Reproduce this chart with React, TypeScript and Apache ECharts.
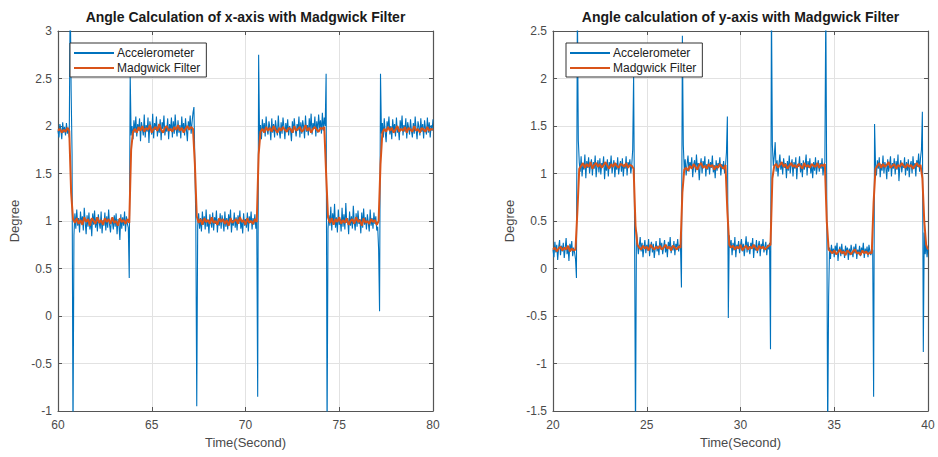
import React, { useEffect, useRef } from "react";
import * as echarts from "echarts";

// ---------- Data ----------
const xAxisTicksLeft = [60, 80, 5]; // min, max, interval
const xAxisTicksRight = [20, 40, 5];
const yRangeLeft = [-1, 3, 0.5];
const yRangeRight = [-1.5, 2.5, 0.5];

const titleLeft = "Angle Calculation of x-axis with Madgwick Filter";
const titleRight = "Angle calculation of y-axis with Madgwick Filter";
const seriesNames = ["Accelerometer", "Madgwick Filter"];

// sampling
const accStep = 0.05;
const madStep = 0.1;
const leftStart = 60;
const rightStart = 20;

// x-axis angle, accelerometer (60.00 .. 80.00, step 0.05)
const leftAccel = [
  1.95, 1.88, 2.02, 1.97, 1.86, 2.04, 1.93, 1.99, 1.90, 2.03,
  1.92, 1.98, 1.88, 3.40, 2.38, 1.70, -1.30, 0.85, 1.08, 0.92,
  1.12, 0.95, 1.03, 0.88, 1.10, 0.97, 1.05, 0.90, 1.14, 0.99,
  0.86, 1.06, 0.94, 1.09, 0.91, 1.02, 0.84, 1.08, 0.96, 1.11,
  0.93, 1.04, 0.89, 1.07, 0.98, 0.92, 1.10, 0.87, 1.01, 0.95,
  1.09, 0.90, 1.05, 0.93, 1.12, 0.96, 0.88, 1.03, 0.99, 0.91,
  1.06, 0.94, 1.08, 0.86, 1.02, 0.97, 0.80, 1.07, 0.92, 1.04,
  0.95, 1.10, 0.89, 1.05, 0.97, 0.93,
  0.40, 2.55, 1.90, 2.00,
  1.86, 2.06, 1.93, 2.10, 1.89, 2.02, 1.95, 2.08, 1.84, 2.04,
  1.97, 1.90, 2.12, 1.88, 2.01, 1.94, 2.09, 1.82, 2.05, 1.98,
  1.91, 2.13, 1.87, 2.03, 1.96, 2.10, 1.89, 2.00, 1.93, 2.07,
  1.85, 2.04, 1.97, 2.11, 1.90, 1.99, 1.94, 2.08, 1.86, 2.02,
  1.95, 2.09, 1.88, 2.05, 1.92, 2.12, 1.97, 1.89, 2.06, 1.93,
  2.01, 1.87, 2.10, 1.95, 2.03, 1.90, 2.08, 1.96, 1.84, 2.05,
  1.98, 2.11, 1.92, 2.04, 2.14, 2.20,
  1.60, 1.00, -0.95, 0.95,
  1.08, 0.92, 1.03, 0.89, 1.10, 0.96, 1.05, 0.91, 1.12, 0.94,
  1.01, 0.87, 1.07, 0.98, 0.93, 1.09, 0.90, 1.04, 0.97, 1.11,
  0.88, 1.02, 0.95, 1.08, 0.92, 1.06, 0.99, 0.89, 1.10, 0.94,
  1.03, 0.91, 1.07, 0.96, 1.12, 0.88, 1.01, 0.95, 1.09, 0.93,
  1.04, 0.90, 1.06, 0.97, 1.11, 0.92, 1.00, 0.87, 1.08, 0.95,
  1.02, 0.93, 1.09, 0.89, 1.05, 0.98, 1.10, 0.91, 1.03, 0.96,
  1.07, 0.92, 1.00,
  -0.85, 2.75, 1.88,
  2.01, 1.86, 2.07, 1.94, 2.03, 1.89, 2.10, 1.96, 1.91, 2.05,
  1.98, 1.85, 2.08, 1.93, 2.02, 1.88, 2.06, 1.97, 1.90, 2.11,
  1.95, 1.87, 2.04, 1.92, 2.09, 1.99, 1.86, 2.03, 1.94, 2.07,
  1.90, 2.00, 1.96, 1.84, 2.05, 1.93, 2.08, 1.97, 1.89, 2.02,
  1.95, 2.10, 1.88, 2.04, 1.92, 2.06, 1.99, 1.87, 2.11, 1.94,
  2.01, 1.90, 2.08, 1.96, 2.13, 1.91, 2.03, 1.97, 2.10, 1.89,
  2.05, 1.93, 2.12, 1.98, 2.06, 1.92, 2.14, 1.95, 2.09, 2.00,
  2.55, -1.30, 0.92,
  1.06, 0.95, 1.15, 0.90, 1.08, 0.97, 1.18, 0.93, 1.04, 0.88,
  1.12, 0.96, 1.02, 0.89, 1.14, 0.94, 1.07, 0.91, 1.19, 0.98,
  1.03, 0.86, 1.10, 0.95, 1.05, 0.92, 1.16, 0.99, 0.90, 1.08,
  0.94, 1.11, 0.97, 1.02, 0.87, 1.09, 0.93, 1.13, 0.96, 1.04,
  0.91, 1.07, 0.98, 0.89, 1.12, 0.95, 1.03, 0.92, 1.09, 0.97,
  1.05, 0.90, 0.94, 0.70,
  0.05, 2.55, 1.92,
  2.03, 1.88, 2.08, 1.94, 1.83, 2.05, 1.97, 2.10, 1.91, 2.00,
  1.86, 2.07, 1.95, 2.02, 1.89, 2.09, 1.93, 1.99, 1.85, 2.06,
  1.96, 2.11, 1.90, 2.01, 1.94, 2.08, 1.87, 2.04, 1.98, 1.91,
  2.07, 1.95, 1.88, 2.03, 1.92, 2.10, 1.96, 1.86, 2.05, 1.99,
  1.90, 2.08, 1.94, 2.02, 1.87, 2.06, 1.97, 1.91, 2.09, 1.93,
  2.04, 1.88, 2.01, 1.95, 2.07,
];

// x-axis angle, Madgwick filter (60.0 .. 80.0, step 0.1)
const leftMadgwick = [
  1.95, 1.97, 1.93, 1.96, 1.94, 1.98, 1.95,
  1.30, 1.02,
  0.98, 1.03, 0.97, 1.01, 0.96, 1.04, 0.99, 1.02, 0.95, 1.03,
  1.00, 0.97, 1.04, 0.98, 1.01, 0.96, 1.03, 0.99, 1.02, 0.97,
  1.04, 0.98, 1.00, 0.95, 1.03, 0.99, 1.01, 0.97, 1.02,
  0.98, 1.75, 1.94,
  1.97, 1.93, 1.99, 1.95, 2.00, 1.94, 1.98, 1.96, 2.01, 1.93,
  1.97, 1.99, 1.95, 2.02, 1.96, 1.93, 1.98, 2.00, 1.95, 1.97,
  1.94, 1.99, 1.96, 2.01, 1.95, 1.98, 1.93, 1.97, 2.00, 1.96, 1.99, 1.97,
  1.60, 1.05,
  0.98, 1.02, 0.96, 1.03, 0.99, 1.01, 0.97, 1.04, 0.98, 1.00,
  0.96, 1.03, 0.99, 1.02, 0.97, 1.01, 0.95, 1.03, 0.98, 1.00,
  1.02, 0.97, 1.04, 0.99, 1.01, 0.96, 1.03, 0.98, 1.00, 0.97, 1.02, 0.99,
  1.70, 1.94,
  1.97, 1.93, 1.99, 1.95, 1.98, 1.94, 2.00, 1.96, 1.93, 1.98,
  1.95, 1.99, 1.96, 1.94, 1.98, 1.97, 1.93, 2.00, 1.95, 1.97,
  1.99, 1.94, 1.96, 2.01, 1.95, 1.98, 1.93, 1.97, 1.99, 1.96, 1.94, 1.98, 1.97, 1.99,
  1.50, 1.04,
  0.98, 1.03, 0.96, 1.02, 0.99, 1.04, 0.97, 1.01, 0.98, 1.03,
  0.96, 1.00, 1.02, 0.97, 1.04, 0.99, 1.01, 0.95, 1.03, 0.98,
  1.00, 0.97, 1.02, 0.99, 1.01, 0.96, 1.00,
  1.60, 1.93,
  1.97, 1.94, 1.99, 1.95, 1.98, 1.93, 1.96, 2.00, 1.94, 1.97,
  1.95, 1.99, 1.93, 1.98, 1.96, 1.94, 2.00, 1.95, 1.97, 1.93,
  1.98, 1.96, 1.94, 1.99, 1.95, 1.97, 1.96,
];

// y-axis angle, accelerometer (20.00 .. 40.00, step 0.05)
const rightAccel = [
  0.20, 0.12, 0.28, 0.17, 0.25, 0.09, 0.22, 0.30, 0.14, 0.24,
  0.18, 0.27, 0.11, 0.21, 0.32, 0.15, 0.23, 0.08, 0.26, 0.19,
  0.29, 0.13, 0.22, 0.17, 0.10,
  -0.10, 2.80, 1.35, 1.12,
  1.02, 1.18, 0.97, 1.10, 1.04, 1.20, 0.95, 1.13, 1.06, 1.17,
  1.00, 1.09, 1.15, 0.98, 1.12, 1.05, 1.19, 0.96, 1.08, 1.14,
  1.01, 1.16, 0.99, 1.11, 1.07, 1.18, 0.94, 1.10, 1.03, 1.15,
  0.97, 1.12, 1.06, 1.19, 1.00, 1.09, 1.14, 0.96, 1.11, 1.04,
  1.17, 0.99, 1.08, 1.13, 1.02, 1.16, 0.97, 1.10, 1.05, 1.18,
  0.98, 1.12, 1.07, 1.15, 1.00, 1.09, 1.25,
  2.05, 0.45, -1.80, 0.40,
  0.28, 0.15, 0.24, 0.33, 0.18, 0.27, 0.12, 0.22, 0.30, 0.16,
  0.25, 0.19, 0.31, 0.13, 0.23, 0.28, 0.17, 0.26, 0.11, 0.21,
  0.29, 0.18, 0.24, 0.14, 0.32, 0.20, 0.27, 0.15, 0.23, 0.30,
  0.17, 0.25, 0.12, 0.28, 0.21, 0.33, 0.16, 0.24, 0.19, 0.29,
  0.14, 0.26, 0.22, 0.31, 0.18, 0.25, 0.23,
  -0.20, 2.45, 1.30,
  1.04, 1.15, 0.98, 1.10, 1.19, 1.02, 1.12, 1.06, 1.17, 0.96,
  1.09, 1.14, 1.01, 1.20, 1.05, 1.11, 0.93, 1.08, 1.16, 1.00,
  1.13, 1.07, 1.18, 0.97, 1.10, 1.04, 1.15, 0.99, 1.12, 1.06,
  1.19, 1.01, 1.09, 0.95, 1.14, 1.03, 1.11, 1.07, 1.17, 0.98,
  1.10, 1.05, 1.13, 1.00, 1.08, 1.22,
  1.60, -0.52, 0.35,
  0.22, 0.30, 0.14, 0.27, 0.19, 0.33, 0.12, 0.25, 0.21, 0.29,
  0.16, 0.24, 0.31, 0.18, 0.26, 0.13, 0.23, 0.34, 0.17, 0.28,
  0.20, 0.15, 0.27, 0.22, 0.32, 0.11, 0.25, 0.19, 0.30, 0.16,
  0.24, 0.29, 0.13, 0.26, 0.21, 0.31, 0.17, 0.23, 0.28, 0.14,
  0.25, 0.20, 0.27,
  -0.85, 2.80, 1.30,
  1.08, 1.18, 1.33, 1.02, 1.14, 0.97, 1.10, 1.20, 1.04, 1.12,
  0.99, 1.16, 1.06, 1.11, 0.95, 1.13, 1.03, 1.19, 1.00, 1.09,
  1.15, 0.97, 1.12, 1.05, 1.17, 0.94, 1.10, 1.07, 1.18, 1.01,
  1.11, 0.96, 1.14, 1.04, 1.09, 1.20, 0.98, 1.13, 1.06, 1.16,
  1.00, 1.10, 0.95, 1.12, 1.03, 1.17, 0.99, 1.08, 1.14, 1.02,
  1.11, 1.05, 1.16, 0.98, 1.09, 1.12,
  2.80, 0.75, -1.80, -0.30,
  0.22, 0.10, 0.25, 0.16, 0.21, 0.12, 0.24, 0.18, 0.27, 0.08,
  0.19, 0.23, 0.13, 0.26, 0.15, 0.20, 0.11, 0.24, 0.17, 0.22,
  0.09, 0.21, 0.14, 0.25, 0.18, 0.12, 0.23, 0.16, 0.26, 0.10,
  0.20, 0.15, 0.24, 0.13, 0.22, 0.17, 0.27, 0.11, 0.21, 0.16,
  0.23, 0.12, 0.25, 0.18, 0.14, 0.22, 0.19,
  -1.35, 1.52, 1.10,
  0.98, 1.14, 1.05, 1.17, 0.96, 1.10, 1.03, 1.19, 1.00, 1.12,
  1.07, 0.94, 1.15, 1.02, 1.09, 1.18, 0.97, 1.11, 1.05, 1.16,
  0.99, 1.13, 1.04, 1.20, 0.92, 1.08, 1.14, 1.01, 1.10, 1.06,
  1.17, 0.98, 1.12, 1.03, 1.15, 0.96, 1.09, 1.13, 1.00, 1.18,
  1.05, 1.11, 0.97, 1.14, 1.07, 1.21, 1.02, 1.16, 1.25,
  1.65, -0.88, 0.38, 0.15, 0.27, 0.12, 0.22,
];

// y-axis angle, Madgwick filter (20.0 .. 40.0, step 0.1)
const rightMadgwick = [
  0.20, 0.22, 0.18, 0.21, 0.23, 0.19, 0.22, 0.20, 0.24, 0.18, 0.21, 0.19, 0.20,
  0.60, 1.05,
  1.08, 1.11, 1.06, 1.10, 1.07, 1.12, 1.05, 1.09, 1.11, 1.07,
  1.10, 1.06, 1.09, 1.12, 1.08, 1.05, 1.10, 1.07, 1.11, 1.08,
  1.06, 1.10, 1.09, 1.07, 1.11, 1.06, 1.09, 1.08,
  1.05, 0.45, 0.25,
  0.22, 0.20, 0.24, 0.21, 0.23, 0.19, 0.25, 0.22, 0.20, 0.23,
  0.21, 0.24, 0.20, 0.22, 0.25, 0.21, 0.23, 0.19, 0.24, 0.22, 0.20, 0.23,
  0.22, 0.80, 1.04,
  1.06, 1.03, 1.08, 1.05, 1.10, 1.07, 1.04, 1.09, 1.11, 1.06,
  1.08, 1.05, 1.10, 1.07, 1.09, 1.04, 1.08, 1.06, 1.10, 1.07, 1.05, 1.09,
  0.60, 0.25,
  0.22, 0.24, 0.20, 0.23, 0.21, 0.25, 0.19, 0.22, 0.24, 0.20,
  0.23, 0.21, 0.25, 0.22, 0.19, 0.24, 0.21, 0.23, 0.20, 0.22, 0.24,
  0.25, 0.95, 1.08,
  1.10, 1.06, 1.09, 1.12, 1.07, 1.10, 1.05, 1.08, 1.11, 1.07,
  1.09, 1.06, 1.10, 1.08, 1.05, 1.11, 1.07, 1.09, 1.06, 1.10,
  1.08, 1.07, 1.11, 1.06, 1.09, 1.08, 1.10,
  0.50, 0.20,
  0.18, 0.16, 0.19, 0.15, 0.17, 0.20, 0.16, 0.18, 0.14, 0.19,
  0.17, 0.15, 0.18, 0.20, 0.16, 0.17, 0.14, 0.19, 0.16, 0.18, 0.15, 0.17, 0.16,
  0.70, 1.05,
  1.08, 1.11, 1.06, 1.10, 1.07, 1.09, 1.12, 1.06, 1.08, 1.10,
  1.05, 1.09, 1.07, 1.11, 1.08, 1.06, 1.10, 1.07, 1.09, 1.05, 1.08, 1.11, 1.07, 1.09,
  0.95, 0.50, 0.25, 0.20,
];

// ---------- Styles ----------
const FONT = "'Liberation Sans', Arial, Helvetica, sans-serif";
const BLUE = "#0072BD";
const ORANGE = "#D95319";
const AXIS_COLOR = "#555555";
const GRID_COLOR = "#e2e2e2";
const TEXT_COLOR = "#4a4a4a";

const toPairs = (vals: number[], t0: number, dt: number) =>
  vals.map((v, i) => [Math.round((t0 + i * dt) * 100) / 100, v]);

function buildOption() {
  const grids = [
    { left: 58, right: 505, top: 31, bottom: 46 },
    { left: 553, right: 10, top: 31, bottom: 46 },
  ];
  const xr = [xAxisTicksLeft, xAxisTicksRight];
  const yr = [yRangeLeft, yRangeRight];

  const xAxes: any[] = [];
  const yAxes: any[] = [];
  for (let g = 0; g < 2; g++) {
    const [xmin, xmax, xint] = xr[g];
    const [ymin, ymax, yint] = yr[g];
    xAxes.push({
      type: "value",
      gridIndex: g,
      min: xmin,
      max: xmax,
      interval: xint,
      position: "bottom",
      name: "Time(Second)",
      nameLocation: "middle",
      nameGap: 24,
      nameTextStyle: { fontFamily: FONT, fontSize: 13, color: TEXT_COLOR },
      axisLine: { show: true, onZero: false, lineStyle: { color: AXIS_COLOR, width: 1.2 } },
      axisTick: { show: true, inside: true, length: 4, lineStyle: { color: AXIS_COLOR } },
      axisLabel: { fontFamily: FONT, fontSize: 12, color: TEXT_COLOR, margin: 8 },
      splitLine: { show: true, lineStyle: { color: GRID_COLOR, width: 1 } },
    });
    xAxes.push({
      type: "value",
      gridIndex: g,
      min: xmin,
      max: xmax,
      interval: xint,
      position: "top",
      axisLine: { show: true, onZero: false, lineStyle: { color: AXIS_COLOR, width: 1.2 } },
      axisTick: { show: true, inside: true, length: 4, lineStyle: { color: AXIS_COLOR } },
      axisLabel: { show: false },
      splitLine: { show: false },
    });
    yAxes.push({
      type: "value",
      gridIndex: g,
      min: ymin,
      max: ymax,
      interval: yint,
      position: "left",
      name: "Degree",
      nameLocation: "middle",
      nameGap: 37,
      nameTextStyle: { fontFamily: FONT, fontSize: 13, color: TEXT_COLOR },
      axisLine: { show: true, onZero: false, lineStyle: { color: AXIS_COLOR, width: 1.2 } },
      axisTick: { show: true, inside: true, length: 4, lineStyle: { color: AXIS_COLOR } },
      axisLabel: { fontFamily: FONT, fontSize: 12, color: TEXT_COLOR, margin: 6 },
      splitLine: { show: true, lineStyle: { color: GRID_COLOR, width: 1 } },
    });
    yAxes.push({
      type: "value",
      gridIndex: g,
      min: ymin,
      max: ymax,
      interval: yint,
      position: "right",
      axisLine: { show: true, onZero: false, lineStyle: { color: AXIS_COLOR, width: 1.2 } },
      axisTick: { show: true, inside: true, length: 4, lineStyle: { color: AXIS_COLOR } },
      axisLabel: { show: false },
      splitLine: { show: false },
    });
  }

  const mkSeries = (name: string, data: number[][], g: number, color: string, width: number) => ({
    type: "line",
    name,
    xAxisIndex: g * 2,
    yAxisIndex: g * 2,
    data,
    showSymbol: false,
    symbol: "none",
    clip: true,
    lineStyle: { color, width },
    itemStyle: { color },
    emphasis: { disabled: true },
    z: color === ORANGE ? 3 : 2,
  });

  const legendCommon = {
    orient: "vertical",
    top: 43,
    icon: "rect",
    itemWidth: 40,
    itemHeight: 2,
    itemGap: 3,
    padding: [4, 6, 3, 4],
    borderColor: "#333",
    borderWidth: 1,
    backgroundColor: "#fff",
    textStyle: { fontFamily: FONT, fontSize: 12, color: "#222", padding: [0, 0, 0, -2] },
    data: seriesNames,
    selectedMode: false,
  };

  return {
    animation: false,
    backgroundColor: "#fff",
    grid: grids,
    xAxis: xAxes,
    yAxis: yAxes,
    legend: [
      { ...legendCommon, left: 70 },
      { ...legendCommon, left: 566 },
    ],
    graphic: [
      {
        type: "text",
        x: 245.5,
        y: 17,
        style: {
          text: titleLeft,
          fontFamily: FONT,
          fontSize: 14,
          fontWeight: "bold",
          fill: "#1a1a1a",
          textAlign: "center",
          textVerticalAlign: "middle",
        },
      },
      {
        type: "text",
        x: 740.5,
        y: 17,
        style: {
          text: titleRight,
          fontFamily: FONT,
          fontSize: 14,
          fontWeight: "bold",
          fill: "#1a1a1a",
          textAlign: "center",
          textVerticalAlign: "middle",
        },
      },
    ],
    series: [
      mkSeries(seriesNames[0], toPairs(leftAccel, leftStart, accStep), 0, BLUE, 1.1),
      mkSeries(seriesNames[1], toPairs(leftMadgwick, leftStart, madStep), 0, ORANGE, 2),
      mkSeries(seriesNames[0], toPairs(rightAccel, rightStart, accStep), 1, BLUE, 1.1),
      mkSeries(seriesNames[1], toPairs(rightMadgwick, rightStart, madStep), 1, ORANGE, 2),
    ],
  };
}

export default function App() {
  const ref = useRef<HTMLDivElement>(null);
  useEffect(() => {
    if (!ref.current) return;
    const chart = echarts.init(ref.current, undefined, { renderer: "svg" });
    chart.setOption(buildOption() as any);
    return () => chart.dispose();
  }, []);
  return (
    <div
      ref={ref}
      style={{ position: "fixed", left: 0, top: 0, width: 938, height: 457, background: "#fff" }}
    />
  );
}
